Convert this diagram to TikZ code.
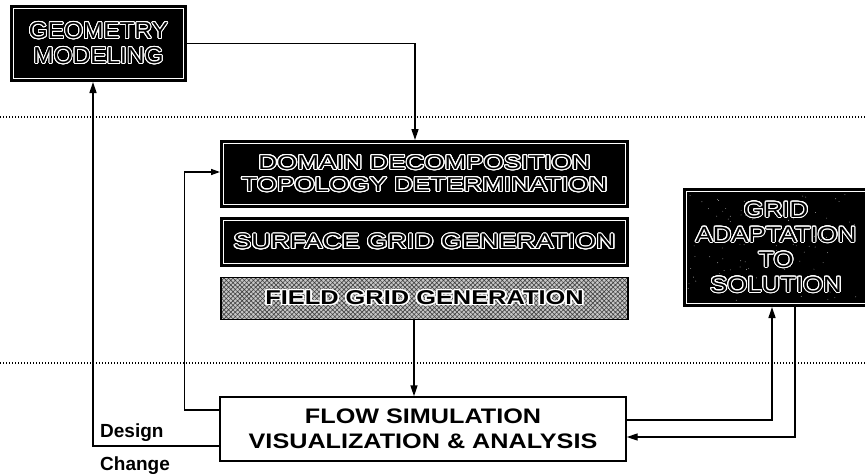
\documentclass[tikz,border=0pt]{standalone}
\usepackage{fontspec}
\setmainfont{Liberation Sans}
\usepackage{graphicx}
\usepackage{contour}
\contourlength{0.9pt}
\contournumber{24}
\usetikzlibrary{arrows.meta,patterns.meta}
\newcommand\ot[2]{\scalebox{#1}[1]{\contour{white}{#2}}}
\begin{document}
\begin{tikzpicture}[x=1pt,y=-1pt,
  >={Triangle[length=11pt,width=7pt]},
  dark/.style={fill=black, draw=white, line width=0.8pt,
    preaction={draw=black, line width=7pt},
    outer sep=3.5pt, inner sep=0pt, align=center, text=black},
  conn/.style={line width=1.4pt, ->},
  sepline/.style={line width=1.1pt, dash pattern=on 1.3pt off 1.7pt},
  plainbox/.style={draw=black, line width=1.4pt, fill=white, inner sep=0pt, align=center}]
\useasboundingbox (0,0) rectangle (865,475);
\fill[white] (0,0) rectangle (865,475);

% separators
\draw[sepline] (0,117) -- (865,117);
\draw[sepline] (0,363) -- (865,363);

% boxes
\node[dark, minimum width=170pt, minimum height=70pt,
  font=\fontsize{23}{25}\selectfont] (geo) at (98.5,43.5)
  {\ot{1.06}{GEOMETRY}\\\ot{1.06}{MODELING}};
\node[dark, minimum width=402pt, minimum height=61pt,
  font=\fontsize{20}{22}\selectfont] (dom) at (424.5,174)
  {\ot{1.3}{DOMAIN DECOMPOSITION}\\\ot{1.3}{TOPOLOGY DETERMINATION}};
\node[dark, minimum width=402pt, minimum height=43pt,
  font=\fontsize{21}{23}\selectfont] (surf) at (424.5,242)
  {\ot{1.27}{SURFACE GRID GENERATION}};
\node[draw=black, line width=1.4pt, inner sep=0pt,
  minimum width=407pt, minimum height=41.5pt,
  preaction={fill=gray!45},
  pattern={Hatch[distance=3.2pt, angle=45, line width=0.6pt]},
  pattern color=black!75,
  font=\bfseries\fontsize{20}{22}\selectfont, text=black] (fld) at (424.5,298.5)
  {\contourlength{1.2pt}\ot{1.27}{FIELD GRID GENERATION}};
\node[dark, minimum width=179pt, minimum height=112pt,
  font=\fontsize{22}{25}\selectfont] (grid) at (776,247.5)
  {\ot{1.17}{GRID}\\\ot{1.17}{ADAPTATION}\\\ot{1.17}{TO}\\\ot{1.17}{SOLUTION}};
\node[plainbox, minimum width=406pt, minimum height=64pt,
  font=\bfseries\fontsize{21}{24.5}\selectfont] (flow) at (423,429)
  {\scalebox{1.2}[1]{FLOW SIMULATION}\\\scalebox{1.2}[1]{VISUALIZATION \& ANALYSIS}};

% speckle texture on grid adaptation box
\pgfmathsetseed{11}
\foreach \i in {1,...,90}{
  \pgfmathsetmacro\px{688+rnd*172}
  \pgfmathsetmacro\py{194+rnd*108}
  \fill[gray!70] (\px,\py) circle (0.45pt);
}

% labels
\node[anchor=base west, inner sep=0pt, font=\bfseries\fontsize{19}{19}\selectfont] (design) at (100,437) {Design};
\node[anchor=base west, inner sep=0pt, font=\bfseries\fontsize{19}{19}\selectfont] (change) at (100,470) {Change};

% connectors
\draw[conn] (geo.east) -| ([xshift=-9.5pt]dom.north);
\draw[conn] ([xshift=-10.5pt]fld.south) -- ([xshift=-9pt]flow.north);
\draw[line width=1.4pt, -{Triangle[length=9pt,width=6pt]}] ([yshift=19pt]flow.west) -- ++(-35,0) |- ([yshift=2pt]dom.west);
\draw[conn] ([yshift=-17pt]flow.west) -| ([xshift=-5.5pt]geo.south);
\draw[conn] ([yshift=9pt]flow.east) -| ([xshift=-4pt]grid.south);
\draw[conn] ([xshift=19pt]grid.south) |- ([yshift=-8pt]flow.east);
\end{tikzpicture}
\end{document}
